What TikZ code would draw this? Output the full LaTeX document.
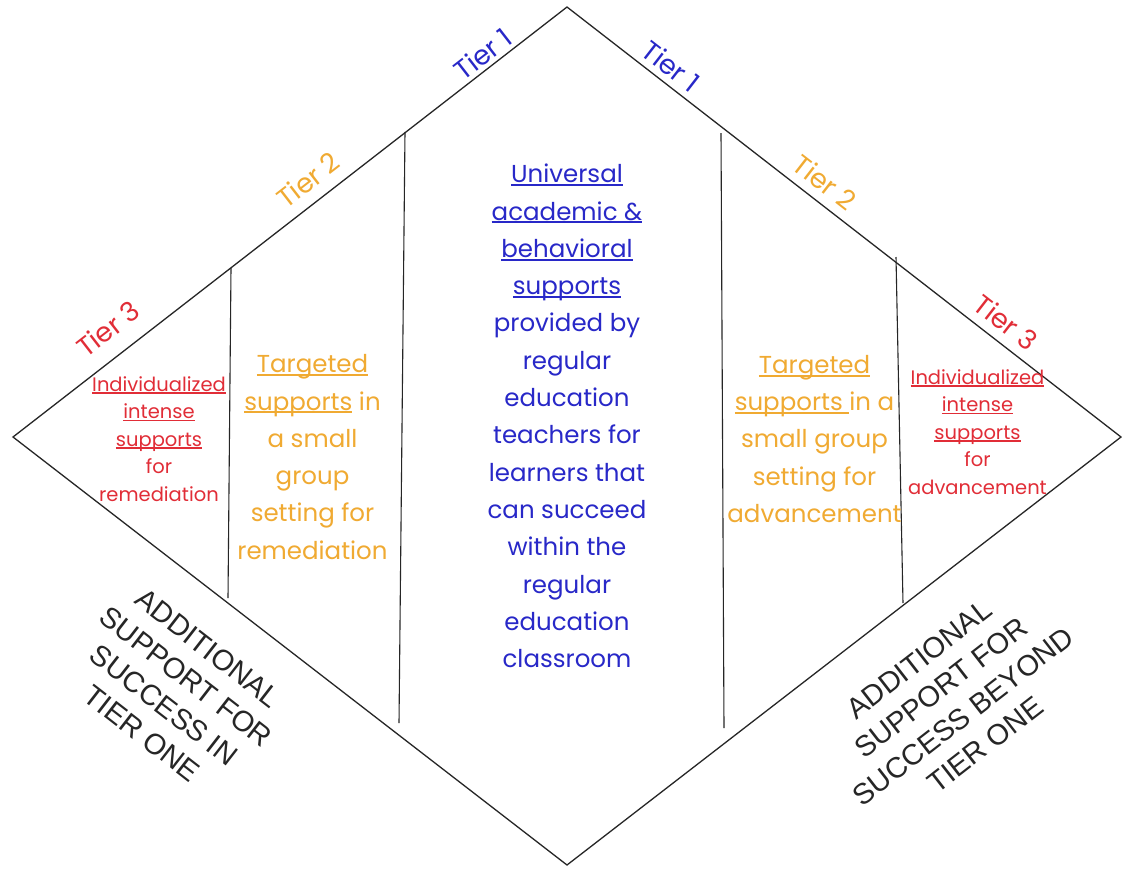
\documentclass[tikz,border=0pt]{standalone}
\usepackage{fontspec}
\setmainfont{Poppins}
\newfontfamily\capsfont{Liberation Sans}

\definecolor{tierblue}{RGB}{40,40,200}
\definecolor{tierorange}{RGB}{240,170,50}
\definecolor{tierred}{RGB}{225,45,55}

% underline with a thicker rule than \underline gives at large sizes
\newcommand\undl[1]{\setbox0=\hbox{#1}\rlap{\rule[-0.13em]{\wd0}{0.075em}}\box0\relax}

\tikzset{
  edge/.style={line width=1.3pt, black!85},
  divider/.style={line width=1.1pt, black!85},
  tierlabel/.style={inner sep=0pt, font=\fontsize{27}{30}\selectfont},
  bigtext/.style={inner sep=0pt, align=center, font=\fontsize{24.5}{37.3}\selectfont},
  smalltext/.style={inner sep=0pt, align=center, font=\fontsize{19.5}{27.5}\selectfont},
  captext/.style={inner sep=0pt, align=center, font=\capsfont\fontsize{29}{36}\selectfont, black!85}
}

\begin{document}
\begin{tikzpicture}[x=1pt,y=-1pt]
\useasboundingbox[fill=white] (0,0) rectangle (1122,868);

% diamond outline
\coordinate (top) at (567,7);
\coordinate (right) at (1121,437);
\coordinate (bottom) at (567,865);
\coordinate (left) at (13,437);
\draw[edge] (top) -- (right) -- (bottom) -- (left) -- cycle;

% column dividers
\coordinate (l3t) at (231,268);  \coordinate (l3b) at (228,598);
\coordinate (l1t) at (405,132);  \coordinate (l1b) at (399,723);
\coordinate (r1t) at (721,133);  \coordinate (r1b) at (724,728);
\coordinate (r3t) at (896,257);  \coordinate (r3b) at (903,603);
\draw[divider] (l3t) -- (l3b);
\draw[divider] (l1t) -- (l1b);
\draw[divider] (r1t) -- (r1b);
\draw[divider] (r3t) -- (r3b);

% tier labels along the upper edges
\node[tierlabel, tierblue, rotate=37.8] (t1l) at (483,54) {Tier 1};
\node[tierlabel, tierblue, rotate=-37.8] (t1r) at (671,66) {Tier 1};
\node[tierlabel, tierorange, rotate=37.8] (t2l) at (308,180) {Tier 2};
\node[tierlabel, tierorange, rotate=-37.8] (t2r) at (825,182) {Tier 2};
\node[tierlabel, tierred, rotate=37.8] (t3l) at (108,329) {Tier 3};
\node[tierlabel, tierred, rotate=-37.8] (t3r) at (1006,322) {Tier 3};

% central column
\node[bigtext, tierblue] (universal) at (567,416) {%
  \undl{Universal}\\ \undl{academic \&}\\ \undl{behavioral}\\ \undl{supports}\\
  provided by\\ regular\\ education\\ teachers for\\ learners that\\
  can succeed\\ within the\\ regular\\ education\\ classroom};

% tier 2 columns
\node[bigtext, tierorange] (target-l) at (312.5,457) {%
  \undl{Targeted}\\ \undl{supports} in\\ a small\\ group\\ setting for\\ remediation};
\node[bigtext, tierorange] (target-r) at (814.5,439) {%
  \undl{Targeted}\\ \undl{supports\ }in a\\ small group\\ setting for\\ advancement};

% tier 3 columns
\node[smalltext, tierred] (indiv-l) at (159,439) {%
  \undl{Individualized}\\ \undl{intense}\\ \undl{supports}\\ for\\ remediation};
\node[smalltext, tierred] (indiv-r) at (977.5,432) {%
  \undl{Individualized}\\ \undl{intense}\\ \undl{supports}\\ for\\ advancement};

% captions along the lower edges
\node[captext, rotate=-37.8] (cap-l) at (175,691) {ADDITIONAL\\ SUPPORT FOR\\ SUCCESS IN\\ TIER ONE};
\node[captext, rotate=37.8] (cap-r) at (952,702) {ADDITIONAL\\ SUPPORT FOR\\ SUCCESS BEYOND\\ TIER ONE};
\end{tikzpicture}
\end{document}
